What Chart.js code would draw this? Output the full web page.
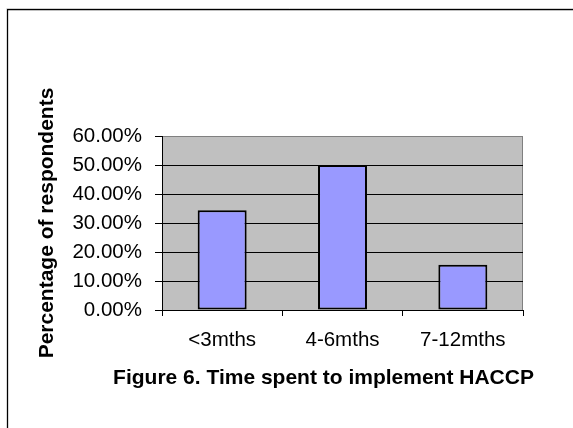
<!DOCTYPE html>
<html>
<head>
<meta charset="utf-8">
<script src="https://cdn.jsdelivr.net/npm/chart.js@4/dist/chart.umd.min.js"></script>
<style>
  html, body { margin: 0; padding: 0; background: #fff; overflow: hidden; }
  canvas { display: block; }
</style>
</head>
<body>
<canvas id="chart" width="573" height="428" style="width:573px;height:428px"></canvas>
<script>
// Time taken to implement HACCP, share of respondents (%)
const categories = ['<3mths', '4-6mths', '7-12mths'];
const respondentShare = [34.38, 50.00, 15.63];
const yTickValues = [0, 10, 20, 30, 40, 50, 60];
const yAxisTitle = 'Percentage of respondents';
const captionText = 'Figure 6. Time spent to implement HACCP';

const FONT = "'Liberation Sans', Arial, Helvetica, sans-serif";

// White page, outer frame and grey plot-area panel
const panelPlugin = {
  id: 'panel',
  beforeDraw(chart) {
    const { ctx, chartArea: a, width, height } = chart;
    ctx.save();
    ctx.fillStyle = '#ffffff';
    ctx.fillRect(0, 0, width, height);

    ctx.strokeStyle = '#d0d0d0';
    ctx.lineWidth = 1;
    ctx.beginPath();
    ctx.moveTo(6.5, 8.5);
    ctx.lineTo(width, 8.5);
    ctx.stroke();

    ctx.strokeStyle = '#000000';
    ctx.lineWidth = 1.3;
    ctx.beginPath();
    ctx.moveTo(7.5, height);
    ctx.lineTo(7.5, 9.6);
    ctx.lineTo(width, 9.6);
    ctx.stroke();

    ctx.fillStyle = '#c0c0c0';
    ctx.fillRect(a.left, a.top, a.right - a.left, a.bottom - a.top);
    ctx.strokeStyle = '#808080';
    ctx.lineWidth = 1;
    ctx.strokeRect(a.left + 0.5, a.top + 0.5, a.right - a.left - 1, a.bottom - a.top);
    ctx.restore();
  }
};

new Chart(document.getElementById('chart'), {
  type: 'bar',
  data: {
    labels: categories,
    datasets: [{
      data: respondentShare,
      backgroundColor: '#9999ff',
      borderColor: '#000000',
      borderWidth: 2,
      borderSkipped: false,
      barPercentage: 0.407,
      categoryPercentage: 1.0
    }]
  },
  options: {
    responsive: false,
    animation: false,
    events: [],
    // the caption box spans from the left padding to the right padding,
    // so the right padding is pulled out to centre it under the plot
    layout: { padding: { left: 24, right: -50, top: 136, bottom: 36.8 } },
    plugins: {
      legend: { display: false },
      tooltip: { enabled: false },
      title: {
        display: true,
        text: captionText,
        position: 'bottom',
        align: 'center',
        color: '#000',
        font: { family: FONT, size: 21, weight: 'bold', lineHeight: 1.2 },
        padding: { top: 6, bottom: 0 }
      }
    },
    scales: {
      x: {
        offset: true,
        grid: {
          display: true,
          offset: true,
          drawOnChartArea: false,
          drawTicks: true,
          tickLength: 6,
          color: '#000',
          lineWidth: 1
        },
        border: { display: true, color: '#000', width: 1 },
        ticks: {
          color: '#000',
          padding: 12,
          maxRotation: 0,
          autoSkip: false,
          font: { family: FONT, size: 20.5, lineHeight: 1.2 }
        },
        afterFit(scale) { scale.height = 50; }
      },
      y: {
        min: 0,
        max: 60,
        afterBuildTicks(scale) {
          scale.ticks = yTickValues.map(v => ({ value: v }));
        },
        grid: {
          color: c => (c.tick && c.tick.value === 60 ? '#808080' : '#000'),
          tickColor: '#000',
          lineWidth: 1,
          tickLength: 7,
          drawTicks: true
        },
        border: { display: true, color: '#000', width: 1 },
        ticks: {
          color: '#000',
          padding: 13,
          font: { family: FONT, size: 20.5, lineHeight: 1.2 },
          callback: v => Number(v).toFixed(2) + '%'
        },
        title: {
          display: true,
          text: yAxisTitle,
          color: '#000',
          font: { family: FONT, size: 21, weight: 'bold', lineHeight: 1.2 },
          padding: { top: 10.4, bottom: 0 }
        },
        afterFit(scale) { scale.width = 138; }
      },
      // empty right-hand margin of the chart
      margin: {
        position: 'right',
        min: 0,
        max: 60,
        grid: { display: false, drawTicks: false },
        border: { display: false },
        ticks: { display: false },
        afterFit(scale) { scale.width = 100; }
      }
    }
  },
  plugins: [panelPlugin]
});
</script>
</body>
</html>
